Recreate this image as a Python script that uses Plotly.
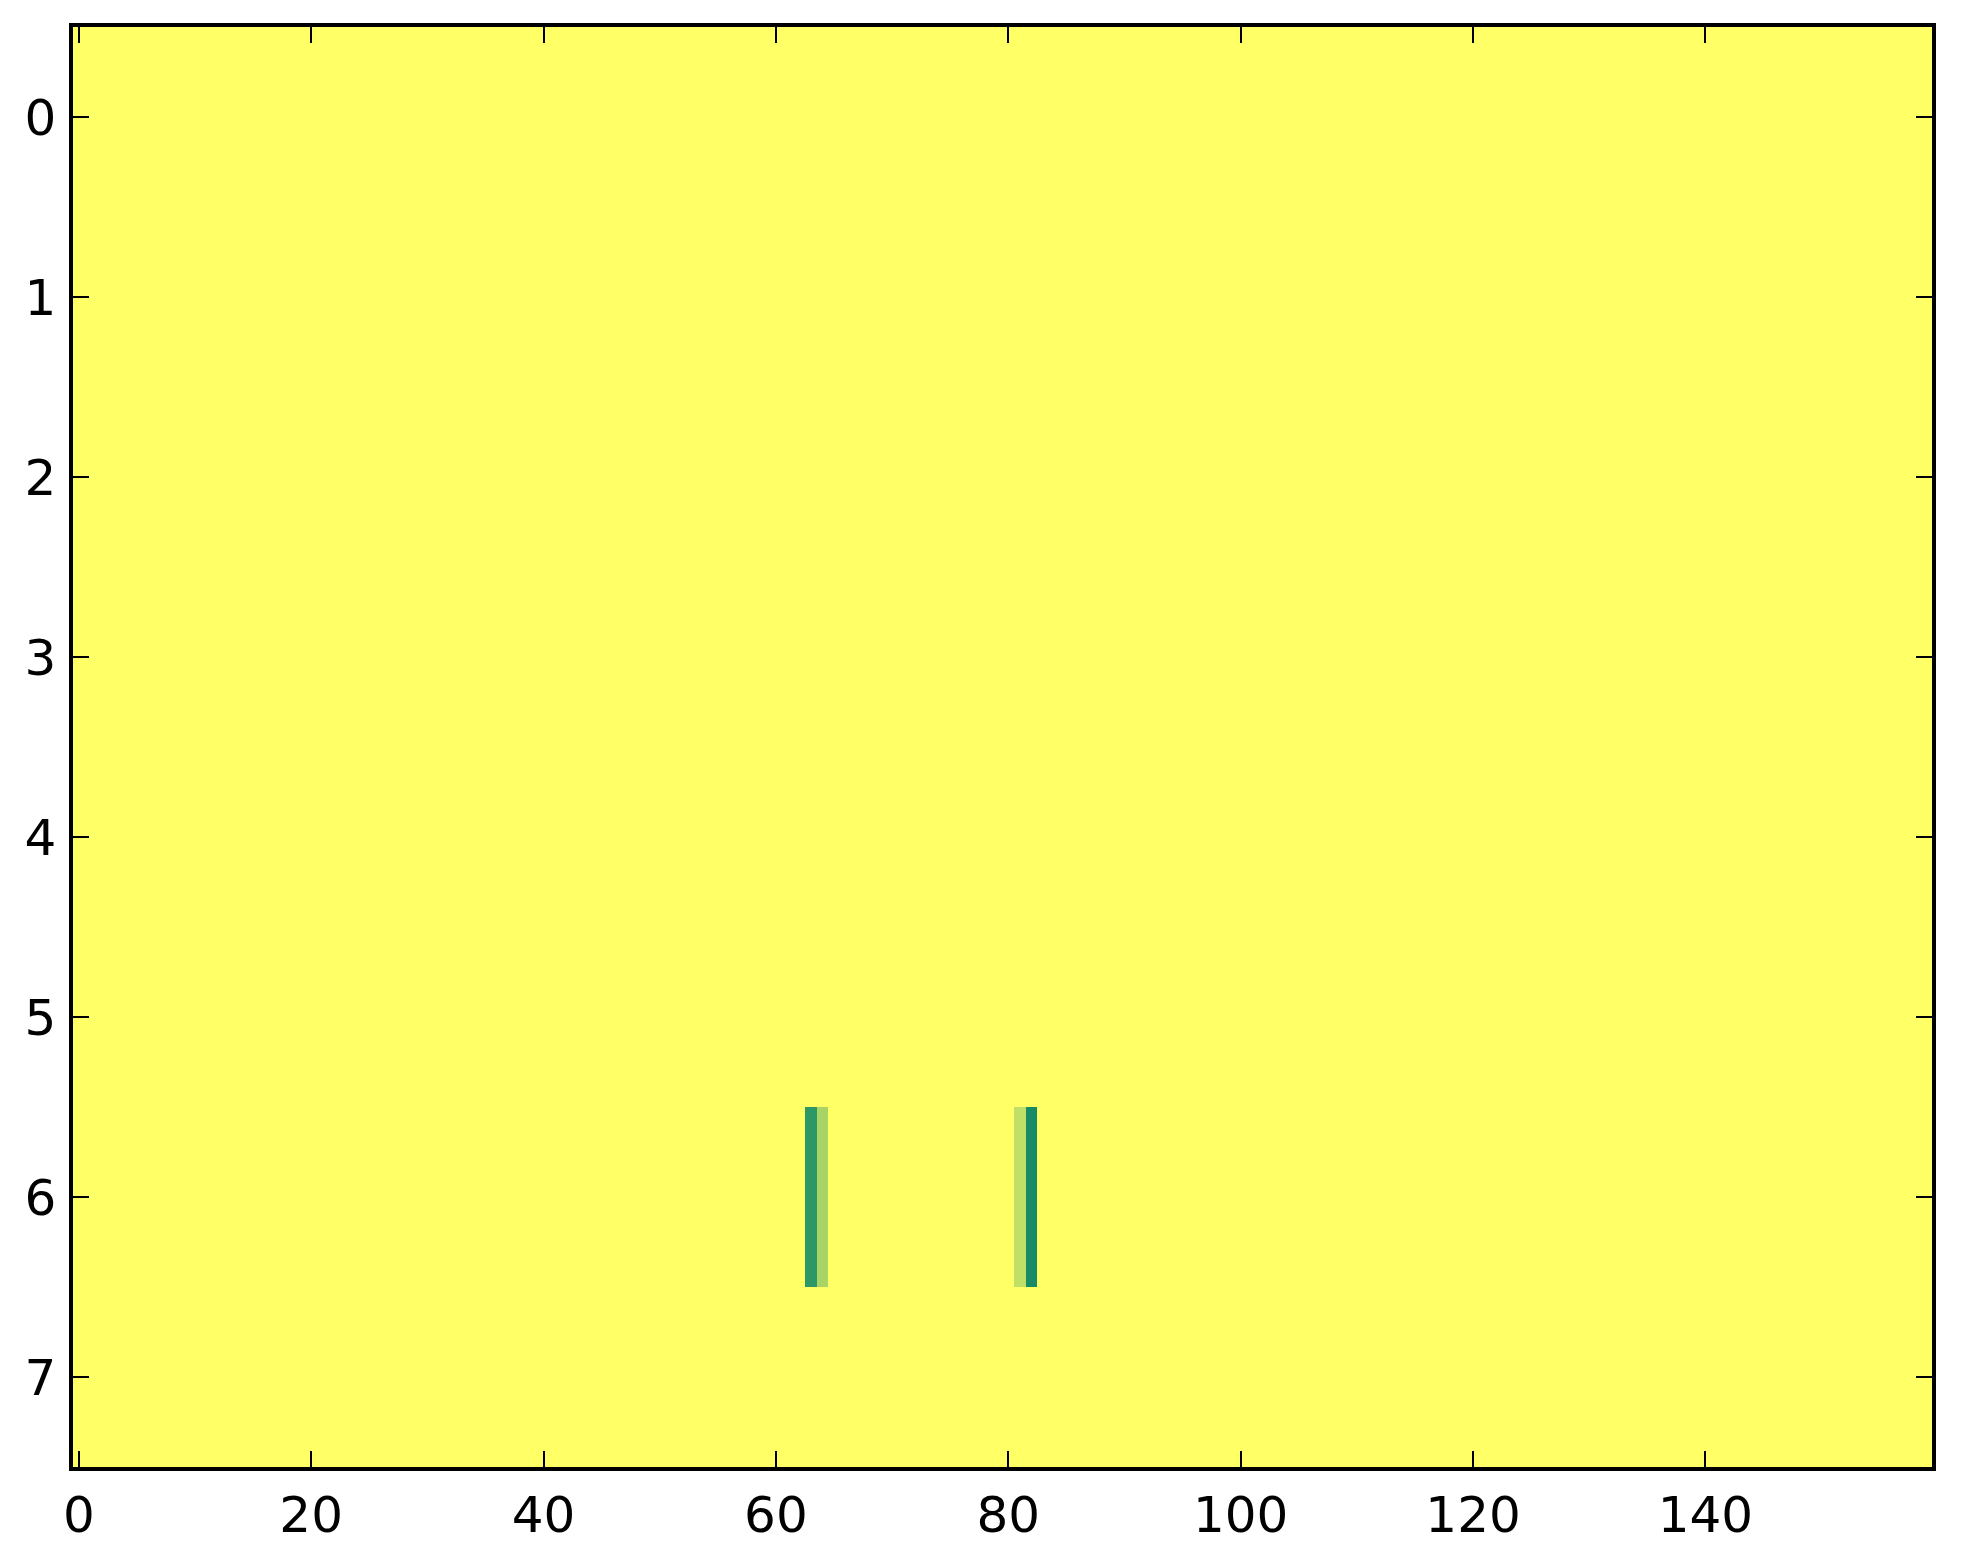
import numpy as np
import plotly.graph_objects as go

n_rows = 8
n_cols = 160
base_value = 1.0
# Row 6 contains the only non-maximal cells
special_row = 6
special_cols = [63, 64, 81, 82]
special_vals = [0.18, 0.66, 0.75, 0.09]

x_ticks = [0, 20, 40, 60, 80, 100, 120, 140]
y_ticks = [0, 1, 2, 3, 4, 5, 6, 7]

z = np.full((n_rows, n_cols), base_value)
for c, v in zip(special_cols, special_vals):
    z[special_row, c] = v

summer = [[0.0, "rgb(0,128,102)"], [1.0, "rgb(255,255,102)"]]

fig = go.Figure(go.Heatmap(
    z=z,
    x=list(range(n_cols)),
    y=list(range(n_rows)),
    colorscale=summer,
    zmin=0, zmax=1,
    showscale=False,
))

font = dict(family="DejaVu Sans", size=50, color="black")
axis_common = dict(
    showline=True, linecolor="black", linewidth=3.5, mirror="ticks",
    ticks="inside", ticklen=16, tickwidth=1.5, tickcolor="black",
    showgrid=False, zeroline=False, tickfont=font, automargin=False,
)
# page body has an 8px default margin, compensated here
fig.update_layout(
    width=1963, height=1564,
    margin=dict(l=65, r=39, t=19, b=105),
    paper_bgcolor="white", plot_bgcolor="white",
    xaxis=dict(range=[-0.5, 159.5], tickvals=x_ticks, ticklabelstandoff=1, **axis_common),
    yaxis=dict(range=[7.5, -0.5], tickvals=y_ticks, ticklabelstandoff=3, **axis_common),
)
fig.write_html("out.html")
